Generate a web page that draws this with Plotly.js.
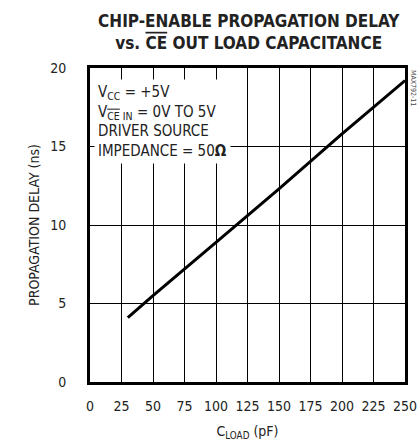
<!DOCTYPE html>
<html>
<head>
<meta charset="utf-8">
<script src="https://cdn.plot.ly/plotly-3.0.1.min.js"></script>
<style>html,body{margin:0;padding:0;background:#fff;}#chart{width:418px;height:445px;}</style>
</head>
<body>
<div id="chart"></div>
<script>
// Data
const loadCapacitance = [30, 50, 100, 150, 200, 250];       // pF
const propagationDelay = [4.1, 5.5, 8.9, 12.3, 15.8, 19.2]; // ns
const xTickVals = [0, 25, 50, 75, 100, 125, 150, 175, 200, 225, 250];
const yTickVals = [0, 5, 10, 15, 20];

const FONT = "'DejaVu Sans Condensed', 'Liberation Sans Narrow', sans-serif";

const trace = {
  x: loadCapacitance,
  y: propagationDelay,
  type: 'scatter',
  mode: 'lines',
  line: {color: '#000', width: 3},
  hoverinfo: 'skip'
};

const layout = {
  width: 418, height: 445,
  margin: {l: 90, r: 13, t: 68, b: 63},
  paper_bgcolor: '#fff', plot_bgcolor: '#fff',
  font: {family: FONT, color: '#222', size: 14},
  showlegend: false,
  title: {
    text: '<b>CHIP-ENABLE PROPAGATION DELAY<br>vs. <span style="text-decoration:overline">CE</span> OUT LOAD CAPACITANCE</b>',
    font: {family: FONT, size: 17, color: '#222'},
    x: 0.595, xanchor: 'center', y: 0.94, yanchor: 'top'
  },
  xaxis: {
    range: [0, 250], tickvals: xTickVals, ticks: '',
    showgrid: true, gridcolor: '#000', gridwidth: 1, zeroline: false,
    showline: true, linecolor: '#000', linewidth: 3, mirror: true,
    ticklabelstandoff: 9,
    tickfont: {size: 14, family: FONT, color: '#222'},
    title: {text: 'C<sub>LOAD</sub> (pF)', font: {size: 14, family: FONT, color: '#222'}, standoff: 14}
  },
  yaxis: {
    range: [0, 20], tickvals: yTickVals, ticks: '',
    showgrid: true, gridcolor: '#000', gridwidth: 1, zeroline: false,
    showline: true, linecolor: '#000', linewidth: 3, mirror: true,
    ticklabelstandoff: 18,
    tickfont: {size: 14, family: FONT, color: '#222'},
    title: {text: 'PROPAGATION DELAY (ns)', font: {size: 14, family: FONT, color: '#222'}, standoff: 8}
  },
  annotations: [
    {
      xref: 'paper', yref: 'paper', x: 0.012, y: 0.965, xanchor: 'left', yanchor: 'top',
      align: 'left', showarrow: false, bgcolor: '#fff', borderpad: 3,
      font: {family: FONT, size: 15, color: '#222'},
      text: 'V<sub>CC</sub> = +5V<br>V<sub><span style="text-decoration:overline">CE</span> IN</sub> = 0V TO 5V<br>DRIVER SOURCE<br>IMPEDANCE = 50<b>Ω</b>'
    },
    {
      xref: 'paper', yref: 'paper', x: 1.0, y: 1.0, xanchor: 'left', yanchor: 'top',
      xshift: 2, showarrow: false, textangle: 90,
      font: {family: FONT, size: 7, color: '#444'},
      text: 'MAX792-11'
    }
  ]
};

Plotly.newPlot('chart', [trace], layout, {displayModeBar: false, staticPlot: true});
</script>
</body>
</html>
